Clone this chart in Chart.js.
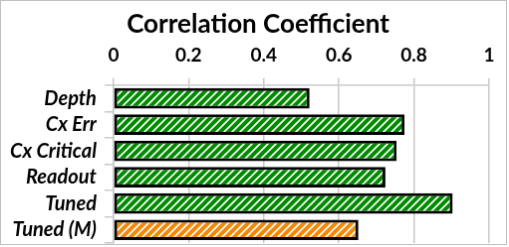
<!DOCTYPE html>
<html>
<head>
<meta charset="utf-8">
<script src="https://cdn.jsdelivr.net/npm/chart.js@4"></script>
<style>
  body { margin: 0; background: #fff; }
  #chart { display: block; border: 1px solid #bfbfbf; }
</style>
</head>
<body>
<canvas id="chart" width="507" height="245"></canvas>
<script>
// Data
const titleText = 'Correlation Coefficient';
const categories = ['Depth', 'Cx Err', 'Cx Critical', 'Readout', 'Tuned', 'Tuned (M)'];
const values = [0.522, 0.775, 0.754, 0.724, 0.903, 0.652];
const barKinds = ['green', 'green', 'green', 'green', 'green', 'orange'];
const tickValues = [0, 0.2, 0.4, 0.6, 0.8, 1];

// Diagonal stripe fill like Excel's wide upward diagonal
function stripes(color) {
    const size = 8;
    const c = document.createElement('canvas');
    c.width = size;
    c.height = size;
    const g = c.getContext('2d');
    g.fillStyle = '#fff';
    g.fillRect(0, 0, size, size);
    g.strokeStyle = color;
    g.lineWidth = 4;
    g.beginPath();
    g.moveTo(-size, 2 * size); g.lineTo(2 * size, -size);
    g.moveTo(-2 * size, 2 * size); g.lineTo(size, -size);
    g.moveTo(0, 2 * size); g.lineTo(3 * size, -size);
    g.stroke();
    return g.createPattern(c, 'repeat');
}

// Title drawn by hand so the gap above the axis labels can be set exactly
const topTitle = {
    id: 'topTitle',
    afterDraw(chart) {
        const c = chart.ctx;
        c.save();
        c.font = 'bold 26px Lato';
        c.fillStyle = '#000';
        c.textAlign = 'center';
        c.textBaseline = 'middle';
        c.fillText(titleText, 258, 24);
        c.restore();
    }
};

document.addEventListener('DOMContentLoaded', () => {
    const ctx = document.getElementById('chart').getContext('2d');
    const fills = { green: stripes('#008a00'), orange: stripes('#f0880a') };

    new Chart(ctx, {
        type: 'bar',
        data: {
            labels: categories,
            datasets: [{
                data: values,
                backgroundColor: barKinds.map(k => fills[k]),
                borderColor: '#000',
                borderWidth: 3,
                borderSkipped: false,
                barPercentage: 0.78,
                categoryPercentage: 1
            }]
        },
        plugins: [topTitle],
        options: {
            indexAxis: 'y',
            responsive: false,
            animation: false,
            layout: { padding: { left: 1, right: 17, top: 31, bottom: 1 } },
            plugins: {
                legend: { display: false },
                tooltip: { enabled: false },
                title: { display: false }
            },
            scales: {
                x: {
                    position: 'top',
                    min: 0,
                    max: 1,
                    afterBuildTicks: axis => {
                        axis.ticks = tickValues.map(v => ({ value: v }));
                    },
                    ticks: {
                        color: '#000',
                        padding: 12,
                        font: { family: 'Lato', size: 19, weight: 'bold' },
                        callback: v => String(v)
                    },
                    grid: { color: '#c8c8c8', lineWidth: 1.5, tickLength: 7 },
                    border: { color: '#c8c8c8', width: 1.5 },
                    afterFit: scale => {
                        scale.paddingLeft = 0;
                        scale.paddingRight = 0;
                    }
                },
                y: {
                    ticks: {
                        autoSkip: false,
                        color: '#000',
                        padding: 8,
                        font: { family: 'Lato', size: 20, weight: 'bold', style: 'italic' }
                    },
                    grid: { offset: true, drawOnChartArea: false, color: '#c8c8c8', lineWidth: 1.5, tickLength: 9 },
                    border: { color: '#c8c8c8', width: 1.5 },
                    // labels sit between offset ticks, so no extra end padding is needed
                    afterFit: scale => {
                        scale.paddingTop = 0;
                        scale.paddingBottom = 0;
                    }
                }
            }
        }
    });
});
</script>
</body>
</html>
